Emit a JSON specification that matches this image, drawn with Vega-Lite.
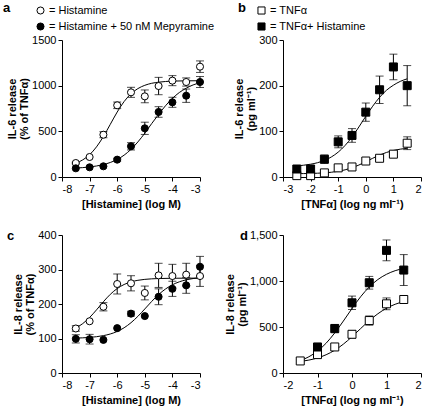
{
  "$schema": "https://vega.github.io/schema/vega-lite/v6.json",
  "padding": {"left": 3, "top": 2, "right": 2, "bottom": 2},
  "datasets": {
    "a_pts": [
      {"s": "Histamine", "x": -7.5, "y": 153, "err": 10},
      {"s": "Histamine", "x": -7, "y": 219, "err": 0},
      {"s": "Histamine", "x": -6.5, "y": 463, "err": 33},
      {"s": "Histamine", "x": -6, "y": 785, "err": 36},
      {"s": "Histamine", "x": -5.5, "y": 927, "err": 55},
      {"s": "Histamine", "x": -5, "y": 883, "err": 70},
      {"s": "Histamine", "x": -4.5, "y": 996, "err": 95},
      {"s": "Histamine", "x": -4, "y": 1055, "err": 55},
      {"s": "Histamine", "x": -3.5, "y": 1040, "err": 45},
      {"s": "Histamine", "x": -3, "y": 1208, "err": 63},
      {"s": "Histamine + 50 nM Mepyramine", "x": -7.5, "y": 95, "err": 0},
      {"s": "Histamine + 50 nM Mepyramine", "x": -7, "y": 106, "err": 0},
      {"s": "Histamine + 50 nM Mepyramine", "x": -6.5, "y": 117, "err": 0},
      {"s": "Histamine + 50 nM Mepyramine", "x": -6, "y": 190, "err": 15},
      {"s": "Histamine + 50 nM Mepyramine", "x": -5.5, "y": 336, "err": 40},
      {"s": "Histamine + 50 nM Mepyramine", "x": -5, "y": 533, "err": 67},
      {"s": "Histamine + 50 nM Mepyramine", "x": -4.5, "y": 712, "err": 58},
      {"s": "Histamine + 50 nM Mepyramine", "x": -4, "y": 818, "err": 55},
      {"s": "Histamine + 50 nM Mepyramine", "x": -3.5, "y": 890, "err": 73},
      {"s": "Histamine + 50 nM Mepyramine", "x": -3, "y": 1040, "err": 60}
    ],
    "a_fit": [
      {"s": "o", "x": -7.5, "y": 151}, {"s": "o", "x": -7.25, "y": 187}, {"s": "o", "x": -7, "y": 244},
      {"s": "o", "x": -6.75, "y": 330}, {"s": "o", "x": -6.5, "y": 443}, {"s": "o", "x": -6.25, "y": 577},
      {"s": "o", "x": -6, "y": 711}, {"s": "o", "x": -5.75, "y": 826}, {"s": "o", "x": -5.5, "y": 911},
      {"s": "o", "x": -5.25, "y": 968}, {"s": "o", "x": -5, "y": 1004}, {"s": "o", "x": -4.75, "y": 1026},
      {"s": "o", "x": -4.5, "y": 1038}, {"s": "o", "x": -4, "y": 1050}, {"s": "o", "x": -3.5, "y": 1053},
      {"s": "o", "x": -3, "y": 1054},
      {"s": "f", "x": -7.5, "y": 98}, {"s": "f", "x": -7, "y": 110}, {"s": "f", "x": -6.5, "y": 136},
      {"s": "f", "x": -6.25, "y": 159}, {"s": "f", "x": -6, "y": 192}, {"s": "f", "x": -5.75, "y": 239},
      {"s": "f", "x": -5.5, "y": 303}, {"s": "f", "x": -5.25, "y": 384}, {"s": "f", "x": -5, "y": 480},
      {"s": "f", "x": -4.75, "y": 585}, {"s": "f", "x": -4.5, "y": 685}, {"s": "f", "x": -4.25, "y": 780},
      {"s": "f", "x": -4, "y": 860}, {"s": "f", "x": -3.75, "y": 925}, {"s": "f", "x": -3.5, "y": 972},
      {"s": "f", "x": -3.25, "y": 1008}, {"s": "f", "x": -3, "y": 1032}
    ],
    "b_pts": [
      {"s": "TNFα", "x": -2.5, "y": 3, "err": 0},
      {"s": "TNFα", "x": -2, "y": 3, "err": 0},
      {"s": "TNFα", "x": -1.5, "y": 9, "err": 0},
      {"s": "TNFα", "x": -1, "y": 20, "err": 0},
      {"s": "TNFα", "x": -0.5, "y": 22, "err": 0},
      {"s": "TNFα", "x": 0, "y": 35, "err": 0},
      {"s": "TNFα", "x": 0.5, "y": 41, "err": 5},
      {"s": "TNFα", "x": 1, "y": 50, "err": 5},
      {"s": "TNFα", "x": 1.5, "y": 74, "err": 14},
      {"s": "TNFα+ Histamine", "x": -2.5, "y": 17.5, "err": 0},
      {"s": "TNFα+ Histamine", "x": -2, "y": 17.5, "err": 0},
      {"s": "TNFα+ Histamine", "x": -1.5, "y": 39, "err": 9},
      {"s": "TNFα+ Histamine", "x": -1, "y": 77, "err": 13},
      {"s": "TNFα+ Histamine", "x": -0.5, "y": 91, "err": 15},
      {"s": "TNFα+ Histamine", "x": 0, "y": 142, "err": 20},
      {"s": "TNFα+ Histamine", "x": 0.5, "y": 191, "err": 30},
      {"s": "TNFα+ Histamine", "x": 1, "y": 241, "err": 28},
      {"s": "TNFα+ Histamine", "x": 1.5, "y": 200, "err": 44}
    ],
    "b_fit": [
      {"s": "o", "x": -2.5, "y": 7.3}, {"s": "o", "x": -2.25, "y": 7.5}, {"s": "o", "x": -2, "y": 7.8},
      {"s": "o", "x": -1.75, "y": 8.3}, {"s": "o", "x": -1.5, "y": 9.1}, {"s": "o", "x": -1.25, "y": 10.4},
      {"s": "o", "x": -1, "y": 12.5}, {"s": "o", "x": -0.75, "y": 15.7}, {"s": "o", "x": -0.5, "y": 20.2},
      {"s": "o", "x": -0.25, "y": 26.2}, {"s": "o", "x": 0, "y": 33.5}, {"s": "o", "x": 0.25, "y": 41},
      {"s": "o", "x": 0.5, "y": 48.1}, {"s": "o", "x": 0.75, "y": 53.8}, {"s": "o", "x": 1, "y": 58.1},
      {"s": "o", "x": 1.25, "y": 61}, {"s": "o", "x": 1.5, "y": 62.9},
      {"s": "f", "x": -2.5, "y": 24.4}, {"s": "f", "x": -2.25, "y": 25.8}, {"s": "f", "x": -2, "y": 28},
      {"s": "f", "x": -1.75, "y": 31.3}, {"s": "f", "x": -1.5, "y": 36.3}, {"s": "f", "x": -1.25, "y": 43.8},
      {"s": "f", "x": -1, "y": 54.5}, {"s": "f", "x": -0.75, "y": 69.1}, {"s": "f", "x": -0.5, "y": 87.7},
      {"s": "f", "x": -0.25, "y": 109.6}, {"s": "f", "x": 0, "y": 133}, {"s": "f", "x": 0.25, "y": 155},
      {"s": "f", "x": 0.5, "y": 174.5}, {"s": "f", "x": 0.75, "y": 190}, {"s": "f", "x": 1, "y": 201},
      {"s": "f", "x": 1.25, "y": 209.4}, {"s": "f", "x": 1.5, "y": 215}
    ],
    "c_pts": [
      {"s": "Histamine", "x": -7.5, "y": 129, "err": 8},
      {"s": "Histamine", "x": -7, "y": 150, "err": 0},
      {"s": "Histamine", "x": -6.5, "y": 192, "err": 12},
      {"s": "Histamine", "x": -6, "y": 258, "err": 29},
      {"s": "Histamine", "x": -5.5, "y": 260, "err": 22},
      {"s": "Histamine", "x": -5, "y": 232, "err": 20},
      {"s": "Histamine", "x": -4.5, "y": 283, "err": 35},
      {"s": "Histamine", "x": -4, "y": 281, "err": 34},
      {"s": "Histamine", "x": -3.5, "y": 285, "err": 33},
      {"s": "Histamine", "x": -3, "y": 281, "err": 30},
      {"s": "Histamine + 50 nM Mepyramine", "x": -7.5, "y": 99, "err": 12},
      {"s": "Histamine + 50 nM Mepyramine", "x": -7, "y": 98, "err": 14},
      {"s": "Histamine + 50 nM Mepyramine", "x": -6.5, "y": 96, "err": 0},
      {"s": "Histamine + 50 nM Mepyramine", "x": -6, "y": 130, "err": 0},
      {"s": "Histamine + 50 nM Mepyramine", "x": -5.5, "y": 172, "err": 7},
      {"s": "Histamine + 50 nM Mepyramine", "x": -5, "y": 165, "err": 0},
      {"s": "Histamine + 50 nM Mepyramine", "x": -4.5, "y": 221, "err": 23},
      {"s": "Histamine + 50 nM Mepyramine", "x": -4, "y": 244, "err": 22},
      {"s": "Histamine + 50 nM Mepyramine", "x": -3.5, "y": 254, "err": 23},
      {"s": "Histamine + 50 nM Mepyramine", "x": -3, "y": 308, "err": 30}
    ],
    "c_fit": [
      {"s": "o", "x": -7.5, "y": 130.4}, {"s": "o", "x": -7.25, "y": 143.1}, {"s": "o", "x": -7, "y": 160.9},
      {"s": "o", "x": -6.75, "y": 183}, {"s": "o", "x": -6.5, "y": 206.6}, {"s": "o", "x": -6.25, "y": 228},
      {"s": "o", "x": -6, "y": 244.8}, {"s": "o", "x": -5.75, "y": 256.5}, {"s": "o", "x": -5.5, "y": 264.1},
      {"s": "o", "x": -5.25, "y": 268.7}, {"s": "o", "x": -5, "y": 271.4}, {"s": "o", "x": -4.5, "y": 273.8},
      {"s": "o", "x": -4, "y": 274.6}, {"s": "o", "x": -3.5, "y": 274.9}, {"s": "o", "x": -3, "y": 275},
      {"s": "f", "x": -7.5, "y": 101.2}, {"s": "f", "x": -7, "y": 103.2}, {"s": "f", "x": -6.5, "y": 108.3},
      {"s": "f", "x": -6.25, "y": 113.1}, {"s": "f", "x": -6, "y": 120.4}, {"s": "f", "x": -5.75, "y": 131.1},
      {"s": "f", "x": -5.5, "y": 145.8}, {"s": "f", "x": -5.25, "y": 164.3}, {"s": "f", "x": -5, "y": 185.6},
      {"s": "f", "x": -4.75, "y": 207.4}, {"s": "f", "x": -4.5, "y": 227.3}, {"s": "f", "x": -4.25, "y": 243.5},
      {"s": "f", "x": -4, "y": 255.7}, {"s": "f", "x": -3.75, "y": 264.3}, {"s": "f", "x": -3.5, "y": 270.1},
      {"s": "f", "x": -3.25, "y": 273.8}, {"s": "f", "x": -3, "y": 276.1}
    ],
    "d_pts": [
      {"s": "TNFα", "x": -1.5, "y": 131, "err": 0},
      {"s": "TNFα", "x": -1, "y": 200, "err": 0},
      {"s": "TNFα", "x": -0.5, "y": 283, "err": 0},
      {"s": "TNFα", "x": 0, "y": 421, "err": 40},
      {"s": "TNFα", "x": 0.5, "y": 570, "err": 50},
      {"s": "TNFα", "x": 1, "y": 752, "err": 64},
      {"s": "TNFα", "x": 1.5, "y": 799, "err": 40},
      {"s": "TNFα+ Histamine", "x": -1, "y": 283, "err": 0},
      {"s": "TNFα+ Histamine", "x": -0.5, "y": 483, "err": 45},
      {"s": "TNFα+ Histamine", "x": 0, "y": 763, "err": 73},
      {"s": "TNFα+ Histamine", "x": 0.5, "y": 981, "err": 69},
      {"s": "TNFα+ Histamine", "x": 1, "y": 1333, "err": 113},
      {"s": "TNFα+ Histamine", "x": 1.5, "y": 1119, "err": 168}
    ],
    "d_fit": [
      {"s": "o", "x": -1.5, "y": 125}, {"s": "o", "x": -1.25, "y": 140.4}, {"s": "o", "x": -1, "y": 163.6},
      {"s": "o", "x": -0.75, "y": 198.4}, {"s": "o", "x": -0.5, "y": 247.8}, {"s": "o", "x": -0.25, "y": 314},
      {"s": "o", "x": 0, "y": 394.5}, {"s": "o", "x": 0.25, "y": 482.8}, {"s": "o", "x": 0.5, "y": 569},
      {"s": "o", "x": 0.75, "y": 644}, {"s": "o", "x": 1, "y": 704}, {"s": "o", "x": 1.25, "y": 747},
      {"s": "o", "x": 1.5, "y": 777},
      {"s": "f", "x": -1.5, "y": 134}, {"s": "f", "x": -1.25, "y": 176.5}, {"s": "f", "x": -1, "y": 238},
      {"s": "f", "x": -0.75, "y": 324}, {"s": "f", "x": -0.5, "y": 436}, {"s": "f", "x": -0.25, "y": 565},
      {"s": "f", "x": 0, "y": 701}, {"s": "f", "x": 0.25, "y": 829}, {"s": "f", "x": 0.5, "y": 935},
      {"s": "f", "x": 0.75, "y": 1016}, {"s": "f", "x": 1, "y": 1073}, {"s": "f", "x": 1.25, "y": 1112},
      {"s": "f", "x": 1.5, "y": 1137}
    ]
  },
  "concat": [
    {
      "width": 138, "height": 137,
      "title": {"text": "a", "dx": -59, "offset": -10},
      "encoding": {
        "x": {"field": "x", "type": "quantitative", "scale": {"domain": [-8, -3], "nice": false}, "axis": {"values": [-8, -7, -6, -5, -4, -3], "labelExpr": "'' + datum.value", "title": "[Histamine] (log M)"}},
        "y": {"field": "y", "type": "quantitative", "scale": {"domain": [0, 1500], "nice": false}, "axis": {"values": [0, 500, 1000, 1500], "format": "d", "title": ["IL-6 release", "(% of TNFα)"]}}
      },
      "layer": [
        {
          "data": {"name": "a_fit"},
          "mark": {"type": "line", "color": "black", "strokeWidth": 1, "interpolate": "monotone"},
          "encoding": {"detail": {"field": "s"}}
        },
        {
          "data": {"name": "a_pts"},
          "transform": [{"filter": "datum.err > 0"}],
          "mark": {"type": "errorbar", "color": "black", "thickness": 1, "ticks": {"size": 8}},
          "encoding": {"yError": {"field": "err"}}
        },
        {
          "data": {"name": "a_pts"},
          "mark": {"type": "circle", "size": 50, "stroke": "black", "strokeWidth": 1, "opacity": 1},
          "encoding": {
            "fill": {"field": "s", "type": "nominal", "scale": {"domain": ["Histamine", "Histamine + 50 nM Mepyramine"], "range": ["white", "black"]},
              "legend": {"orient": "none", "legendX": -27, "legendY": -35, "title": null, "labelExpr": "'= ' + datum.label", "symbolType": "circle"}}
          }
        }
      ]
    },
    {
      "width": 138, "height": 137,
      "title": {"text": "b", "dx": -45, "offset": -10},
      "encoding": {
        "x": {"field": "x", "type": "quantitative", "scale": {"domain": [-3, 2], "nice": false}, "axis": {"values": [-3, -2, -1, 0, 1, 2], "labelExpr": "'' + datum.value", "title": "[TNFα] (log ng ml⁻¹)"}},
        "y": {"field": "y", "type": "quantitative", "scale": {"domain": [0, 300], "nice": false}, "axis": {"values": [0, 100, 200, 300], "format": "d", "title": ["IL-6 release", "(pg ml⁻¹)"]}}
      },
      "layer": [
        {
          "data": {"name": "b_fit"},
          "mark": {"type": "line", "color": "black", "strokeWidth": 1, "interpolate": "monotone"},
          "encoding": {"detail": {"field": "s"}}
        },
        {
          "data": {"name": "b_pts"},
          "transform": [{"filter": "datum.err > 0"}],
          "mark": {"type": "errorbar", "color": "black", "thickness": 1, "ticks": {"size": 8}},
          "encoding": {"yError": {"field": "err"}}
        },
        {
          "data": {"name": "b_pts"},
          "mark": {"type": "square", "size": 64, "stroke": "black", "strokeWidth": 1, "opacity": 1},
          "encoding": {
            "fill": {"field": "s", "type": "nominal", "scale": {"domain": ["TNFα", "TNFα+ Histamine"], "range": ["white", "black"]},
              "legend": {"orient": "none", "legendX": -27, "legendY": -35, "title": null, "labelExpr": "'= ' + datum.label", "symbolType": "square"}}
          }
        }
      ]
    },
    {
      "width": 138, "height": 138,
      "title": {"text": "c", "dx": -55, "offset": -14},
      "encoding": {
        "x": {"field": "x", "type": "quantitative", "scale": {"domain": [-8, -3], "nice": false}, "axis": {"values": [-8, -7, -6, -5, -4, -3], "labelExpr": "'' + datum.value", "title": "[Histamine] (log M)"}},
        "y": {"field": "y", "type": "quantitative", "scale": {"domain": [0, 400], "nice": false}, "axis": {"values": [0, 100, 200, 300, 400], "format": "d", "title": ["IL-8 release", "(% of TNFα)"]}}
      },
      "layer": [
        {
          "data": {"name": "c_fit"},
          "mark": {"type": "line", "color": "black", "strokeWidth": 1, "interpolate": "monotone"},
          "encoding": {"detail": {"field": "s"}}
        },
        {
          "data": {"name": "c_pts"},
          "transform": [{"filter": "datum.err > 0"}],
          "mark": {"type": "errorbar", "color": "black", "thickness": 1, "ticks": {"size": 8}},
          "encoding": {"yError": {"field": "err"}}
        },
        {
          "data": {"name": "c_pts"},
          "mark": {"type": "circle", "size": 50, "stroke": "black", "strokeWidth": 1, "opacity": 1},
          "encoding": {
            "fill": {"field": "s", "type": "nominal", "scale": {"domain": ["Histamine", "Histamine + 50 nM Mepyramine"], "range": ["white", "black"]}, "legend": null}
          }
        }
      ]
    },
    {
      "width": 138, "height": 138,
      "title": {"text": "d", "dx": -43, "offset": -14},
      "encoding": {
        "x": {"field": "x", "type": "quantitative", "scale": {"domain": [-2, 2], "nice": false}, "axis": {"values": [-2, -1, 0, 1, 2], "labelExpr": "'' + datum.value", "title": "[TNFα] (log ng ml⁻¹)"}},
        "y": {"field": "y", "type": "quantitative", "scale": {"domain": [0, 1500], "nice": false}, "axis": {"values": [0, 500, 1000, 1500], "format": ",d", "title": ["IL-8 release", "(pg ml⁻¹)"]}}
      },
      "layer": [
        {
          "data": {"name": "d_fit"},
          "mark": {"type": "line", "color": "black", "strokeWidth": 1, "interpolate": "monotone"},
          "encoding": {"detail": {"field": "s"}}
        },
        {
          "data": {"name": "d_pts"},
          "transform": [{"filter": "datum.err > 0"}],
          "mark": {"type": "errorbar", "color": "black", "thickness": 1, "ticks": {"size": 8}},
          "encoding": {"yError": {"field": "err"}}
        },
        {
          "data": {"name": "d_pts"},
          "mark": {"type": "square", "size": 64, "stroke": "black", "strokeWidth": 1, "opacity": 1},
          "encoding": {
            "fill": {"field": "s", "type": "nominal", "scale": {"domain": ["TNFα", "TNFα+ Histamine"], "range": ["white", "black"]}, "legend": null}
          }
        }
      ]
    }
  ],
  "columns": 2,
  "spacing": {"row": 58, "column": 83},
  "bounds": "flush",
  "resolve": {
    "scale": {"x": "independent", "y": "independent", "fill": "independent"},
    "axis": {"x": "independent", "y": "independent"},
    "legend": {"fill": "independent"}
  },
  "config": {
    "font": "Liberation Sans",
    "view": {"stroke": null},
    "axis": {
      "grid": false, "domainColor": "black", "tickColor": "black", "labelColor": "black", "titleColor": "black",
      "labelFontSize": 11, "titleFontSize": 11, "titleFontWeight": "bold", "tickSize": 4,
      "labelFont": "Liberation Sans", "titleFont": "Liberation Sans", "titleLineHeight": 12,
      "domainWidth": 1, "tickWidth": 1, "labelPadding": 2
    },
    "axisY": {"titlePadding": 2},
    "axisX": {"titlePadding": 4},
    "legend": {
      "labelFont": "Liberation Sans", "labelFontSize": 11, "labelColor": "black", "labelLimit": 300,
      "symbolStrokeColor": "black", "symbolStrokeWidth": 1, "symbolSize": 50,
      "padding": 0, "rowPadding": 3, "labelOffset": 3
    },
    "title": {"anchor": "start", "frame": "group", "fontSize": 13, "fontWeight": "bold", "color": "black", "font": "Liberation Sans"}
  }
}
